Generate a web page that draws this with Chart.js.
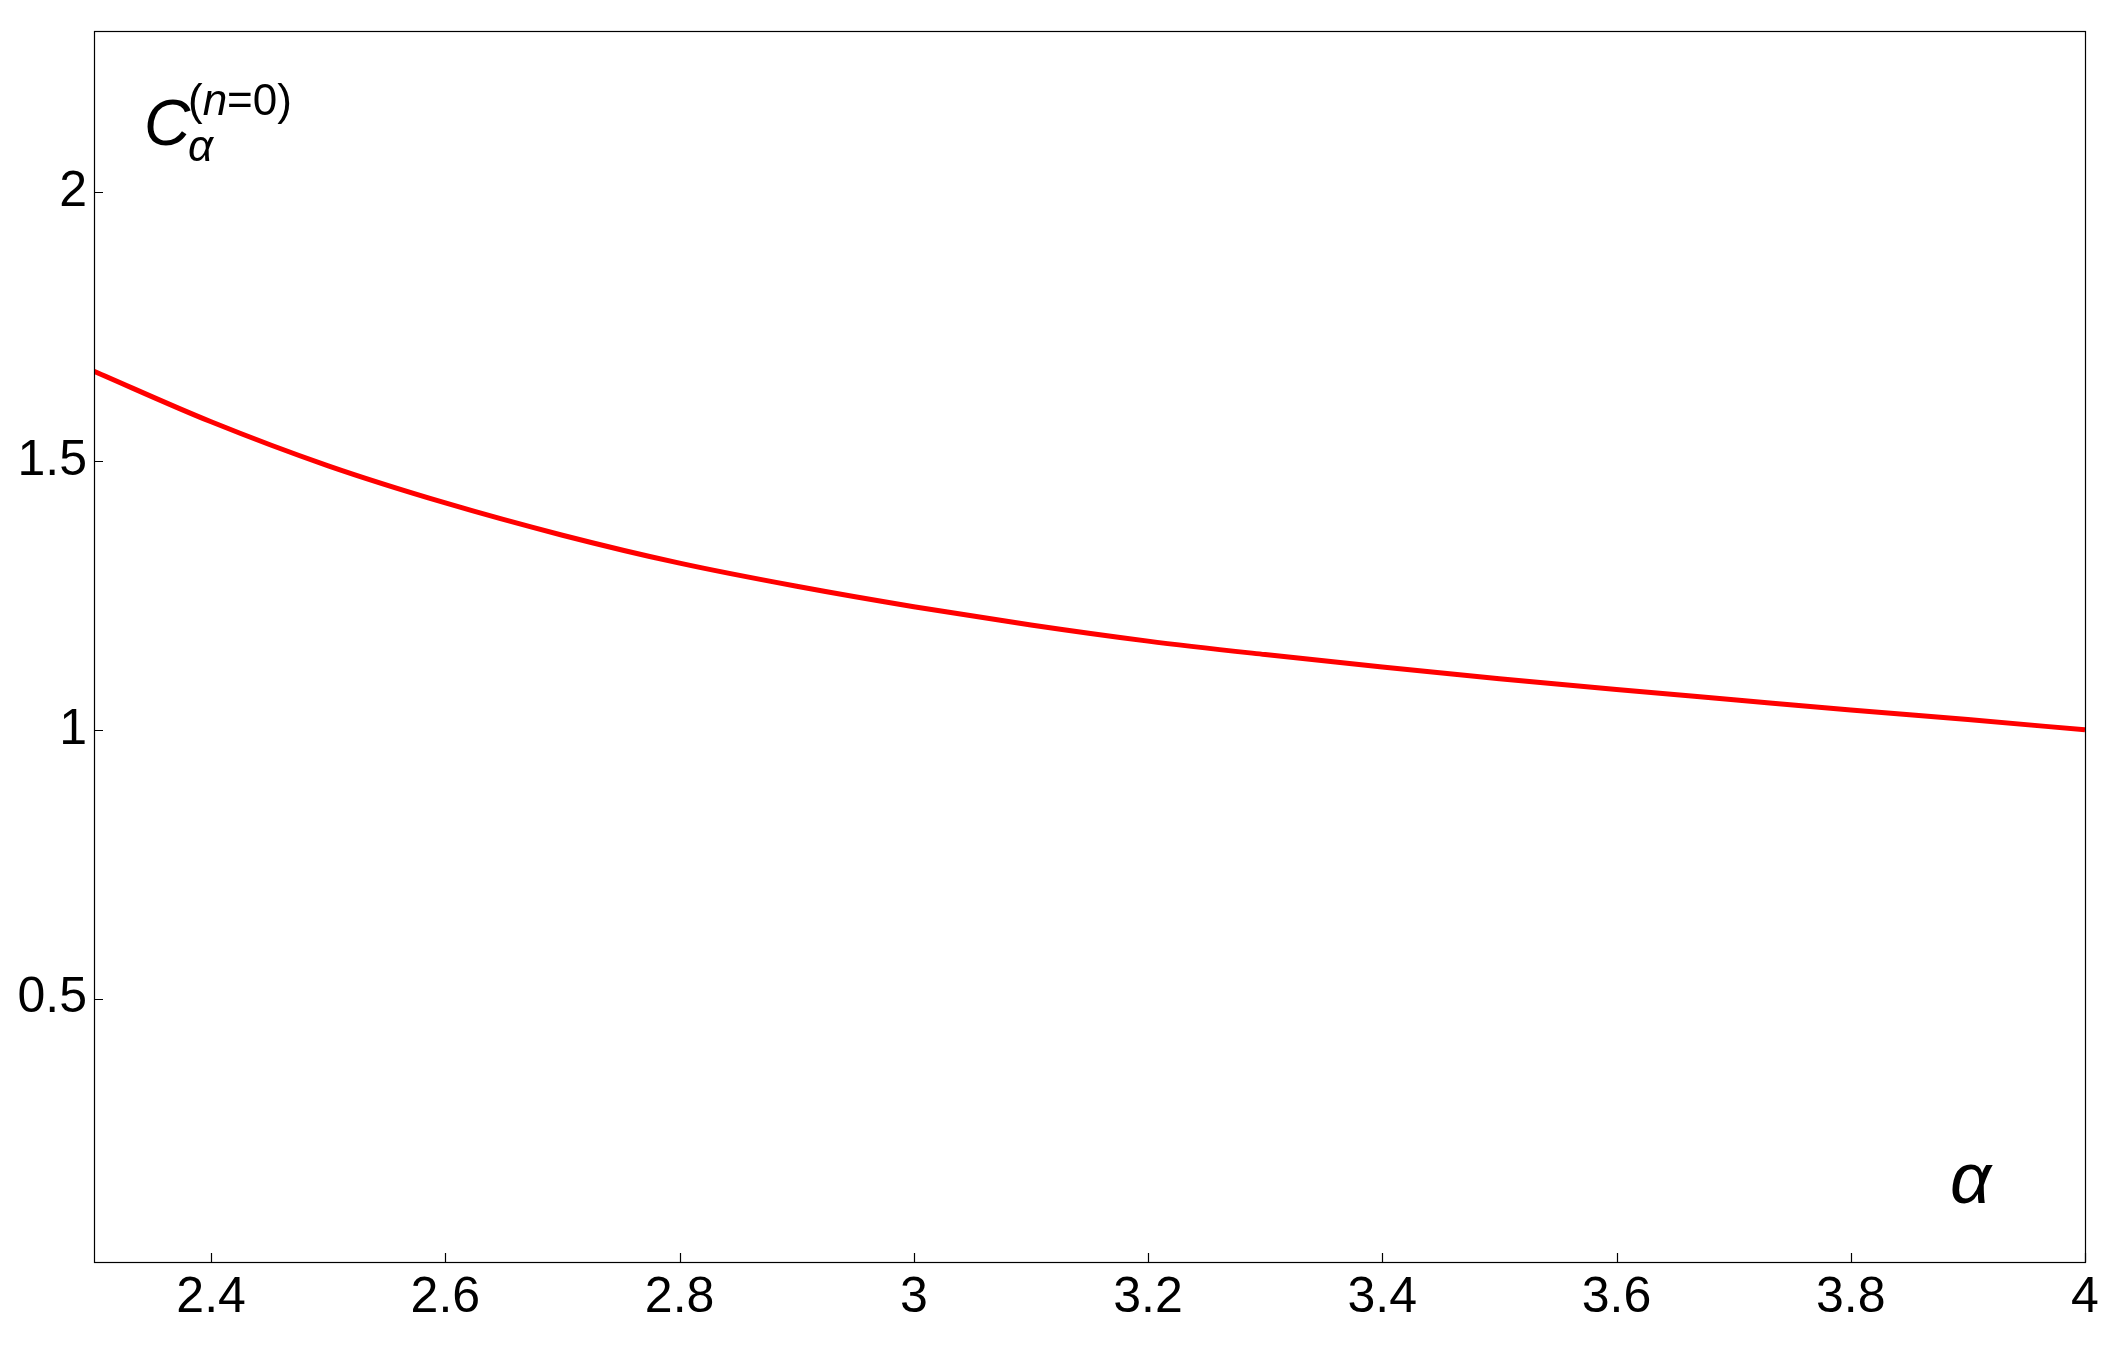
<!doctype html>
<html>
<head>
<meta charset="utf-8">
<title>C alpha (n=0)</title>
<style>
  html, body { margin: 0; padding: 0; background: #fff; }
  #wrap { width: 2125px; height: 1349px; }
</style>
</head>
<body>
<div id="wrap"><canvas id="chart" width="2125" height="1349"></canvas></div>
<script src="https://cdn.jsdelivr.net/npm/chart.js"></script>
<script>
// values
const alphaValues = [2.3, 2.4, 2.5, 2.6, 2.7, 2.8, 2.9, 3.0, 3.1, 3.2, 3.3, 3.4, 3.5, 3.6, 3.7, 3.8, 3.9, 4.0]
const cValues = [1.667, 1.573, 1.491, 1.422, 1.362, 1.310, 1.267, 1.229, 1.195, 1.165, 1.140, 1.117, 1.095, 1.075, 1.056, 1.037, 1.019, 1.0]
const xTicks = [2.4, 2.6, 2.8, 3, 3.2, 3.4, 3.6, 3.8, 4]
const yTicks = [0.5, 1, 1.5, 2]

const FONT = '"Liberation Sans", Arial, sans-serif'

const fmt = (v) => String(+Number(v).toFixed(2))

// no extra room for half labels, the plot box is fixed by layout.padding
const noPad = (s) => {
  s.paddingTop = 0
  s.paddingBottom = 0
  s.paddingLeft = 0
  s.paddingRight = 0
}

// frame, inward tick marks and the math labels
const framePlugin = {
  id: 'frame',
  afterDraw(chart) {
    const { ctx, chartArea: a, scales } = chart
    ctx.save()
    ctx.strokeStyle = '#000'
    ctx.lineWidth = 1.2
    ctx.strokeRect(a.left + 0.5, a.top + 0.5, a.right - a.left, a.bottom - a.top)

    ctx.beginPath()
    xTicks.forEach((t) => {
      const px = Math.round(scales.x.getPixelForValue(t)) + 0.5
      ctx.moveTo(px, a.bottom)
      ctx.lineTo(px, a.bottom - 9)
    })
    yTicks.forEach((t) => {
      const py = Math.round(scales.y.getPixelForValue(t)) + 0.5
      ctx.moveTo(a.left, py)
      ctx.lineTo(a.left + 9, py)
    })
    ctx.stroke()

    ctx.fillStyle = '#000'
    ctx.textBaseline = 'alphabetic'
    ctx.textAlign = 'left'
    // C_alpha^(n=0)
    ctx.font = 'italic 64px ' + FONT
    ctx.fillText('C', a.left + 50, a.top + 114)
    ctx.font = '44px ' + FONT
    let x = a.left + 94
    const supY = a.top + 84
    ctx.fillText('(', x, supY)
    x += ctx.measureText('(').width
    ctx.font = 'italic 44px ' + FONT
    ctx.fillText('n', x, supY)
    x += ctx.measureText('n').width
    ctx.font = '44px ' + FONT
    ctx.fillText('=0)', x, supY)
    ctx.font = 'italic 44px ' + FONT
    ctx.fillText('α', a.left + 94, a.top + 130)

    // x axis label
    ctx.font = 'italic 72px ' + FONT
    ctx.fillText('α', 1950, 1203)
    ctx.restore()
  }
}

new Chart(document.getElementById('chart'), {
  type: 'line',
  data: {
    datasets: [{
      data: alphaValues.map((a, i) => ({ x: a, y: cValues[i] })),
      borderColor: '#ff0000',
      borderWidth: 5,
      pointRadius: 0,
      cubicInterpolationMode: 'monotone',
      fill: false
    }]
  },
  options: {
    responsive: false,
    animation: false,
    layout: { padding: { top: 31, right: 40, left: 0, bottom: 0 } },
    plugins: { legend: { display: false }, tooltip: { enabled: false } },
    scales: {
      x: {
        type: 'linear',
        min: 2.3,
        max: 4,
        grid: { display: false, drawTicks: false },
        border: { display: false },
        afterFit: (s) => { s.height = 87; noPad(s) },
        afterBuildTicks: (s) => { s.ticks = xTicks.map((v) => ({ value: v })) },
        ticks: {
          autoSkip: false,
          maxRotation: 0,
          padding: 6,
          color: '#000',
          font: { family: FONT, size: 50 },
          callback: fmt
        }
      },
      y: {
        min: 0.01,
        max: 2.3,
        grid: { display: false, drawTicks: false },
        border: { display: false },
        afterFit: (s) => { s.width = 94; noPad(s) },
        afterBuildTicks: (s) => { s.ticks = yTicks.map((v) => ({ value: v })) },
        ticks: {
          autoSkip: false,
          padding: 7,
          color: '#000',
          font: { family: FONT, size: 50 },
          callback: fmt
        }
      }
    }
  },
  plugins: [framePlugin]
})
</script>
</body>
</html>
